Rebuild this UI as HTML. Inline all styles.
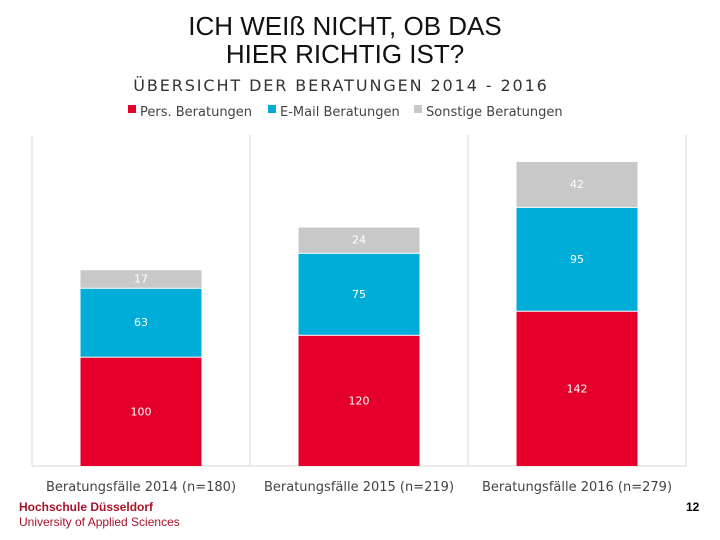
<!DOCTYPE html>
<html><head><meta charset="utf-8"><style>
body{margin:0;width:720px;height:540px;background:#fff;overflow:hidden;font-family:"Liberation Sans",sans-serif;position:relative}
.t{position:absolute;left:0;width:690px;text-align:center;font-size:26px;color:#111;line-height:28px}
</style></head><body>
<div class="t" style="top:12px">ICH WEIß NICHT, OB DAS<br>HIER RICHTIG IST?</div>
<svg id="c" width="720" height="540" style="position:absolute;left:0;top:0"></svg>
<div style="position:absolute;left:19px;top:500px;font-size:12px;font-weight:bold;color:#a5132a">Hochschule Düsseldorf</div>
<div style="position:absolute;left:19px;top:515px;font-size:12px;color:#a5132a">University of Applied Sciences</div>
<div style="position:absolute;left:686px;top:500px;font-size:12px;font-weight:bold;color:#000">12</div>
<script>
const categories=["Beratungsfälle 2014 (n=180)","Beratungsfälle 2015 (n=219)","Beratungsfälle 2016 (n=279)"];
const seriesNames=["Pers. Beratungen","E-Mail Beratungen","Sonstige Beratungen"];
const pers=[100,120,142];
const email=[63,75,95];
const sonst=[17,24,42];
const colors=["#e4002b","#00acd8","#c8c8c8"];
const svg=document.getElementById('c');const NS="http://www.w3.org/2000/svg";
function mk(t,a,p){const e=document.createElementNS(NS,t);for(const k in a)e.setAttribute(k,a[k]);(p||svg).appendChild(e);return e;}
const x0=32,x1=686,yb=466,yt=138,vmax=300;
const y=v=>yb-(yt-yb)*-v/vmax;
const bw=(x1-x0)/categories.length;
const xc=i=>x0+bw*(i+0.5);
let st=mk('text',{x:341,y:91,'text-anchor':'middle','font-size':16,fill:'#333','letter-spacing':'1.9','font-family':'DejaVu Sans, sans-serif'});
st.textContent="ÜBERSICHT DER BERATUNGEN 2014 - 2016";

const lx=[128,268,414];
seriesNames.forEach((n,i)=>{const g=mk('g',{});

mk('rect',{x:lx[i],y:105,width:8,height:8,fill:colors[i]},g);
const t=mk('text',{x:lx[i]+12,y:116,'font-size':13,fill:'#444','font-family':'DejaVu Sans, sans-serif'},g);t.textContent=n;});
for(let i=0;i<=categories.length;i++){const l=mk('line',{x1:x0+bw*i,x2:x0+bw*i,y1:135,y2:yb,stroke:'#d9d9d9'});
}
const ax=mk('line',{x1:x0,x2:x1,y1:yb,y2:yb,stroke:'#d9d9d9'});

const series=[pers,email,sonst];
categories.forEach((c,i)=>{let base=0;const w=121;
series.forEach((s,j)=>{const v=s[i];const top=y(base+v),bot=y(base);
const r=mk('rect',{x:xc(i)-w/2,y:top+1,width:w,height:bot-top-1,fill:colors[j]});

const t=mk('text',{x:xc(i),y:(top+bot)/2+4,'text-anchor':'middle','font-size':11,fill:'#fff','font-family':'DejaVu Sans, sans-serif'});t.textContent=v;

base+=v;});
const tl=mk('text',{x:xc(i),y:491,'text-anchor':'middle','font-size':13,fill:'#444','font-family':'DejaVu Sans, sans-serif'});tl.textContent=c;
});
</script>
</body></html>
